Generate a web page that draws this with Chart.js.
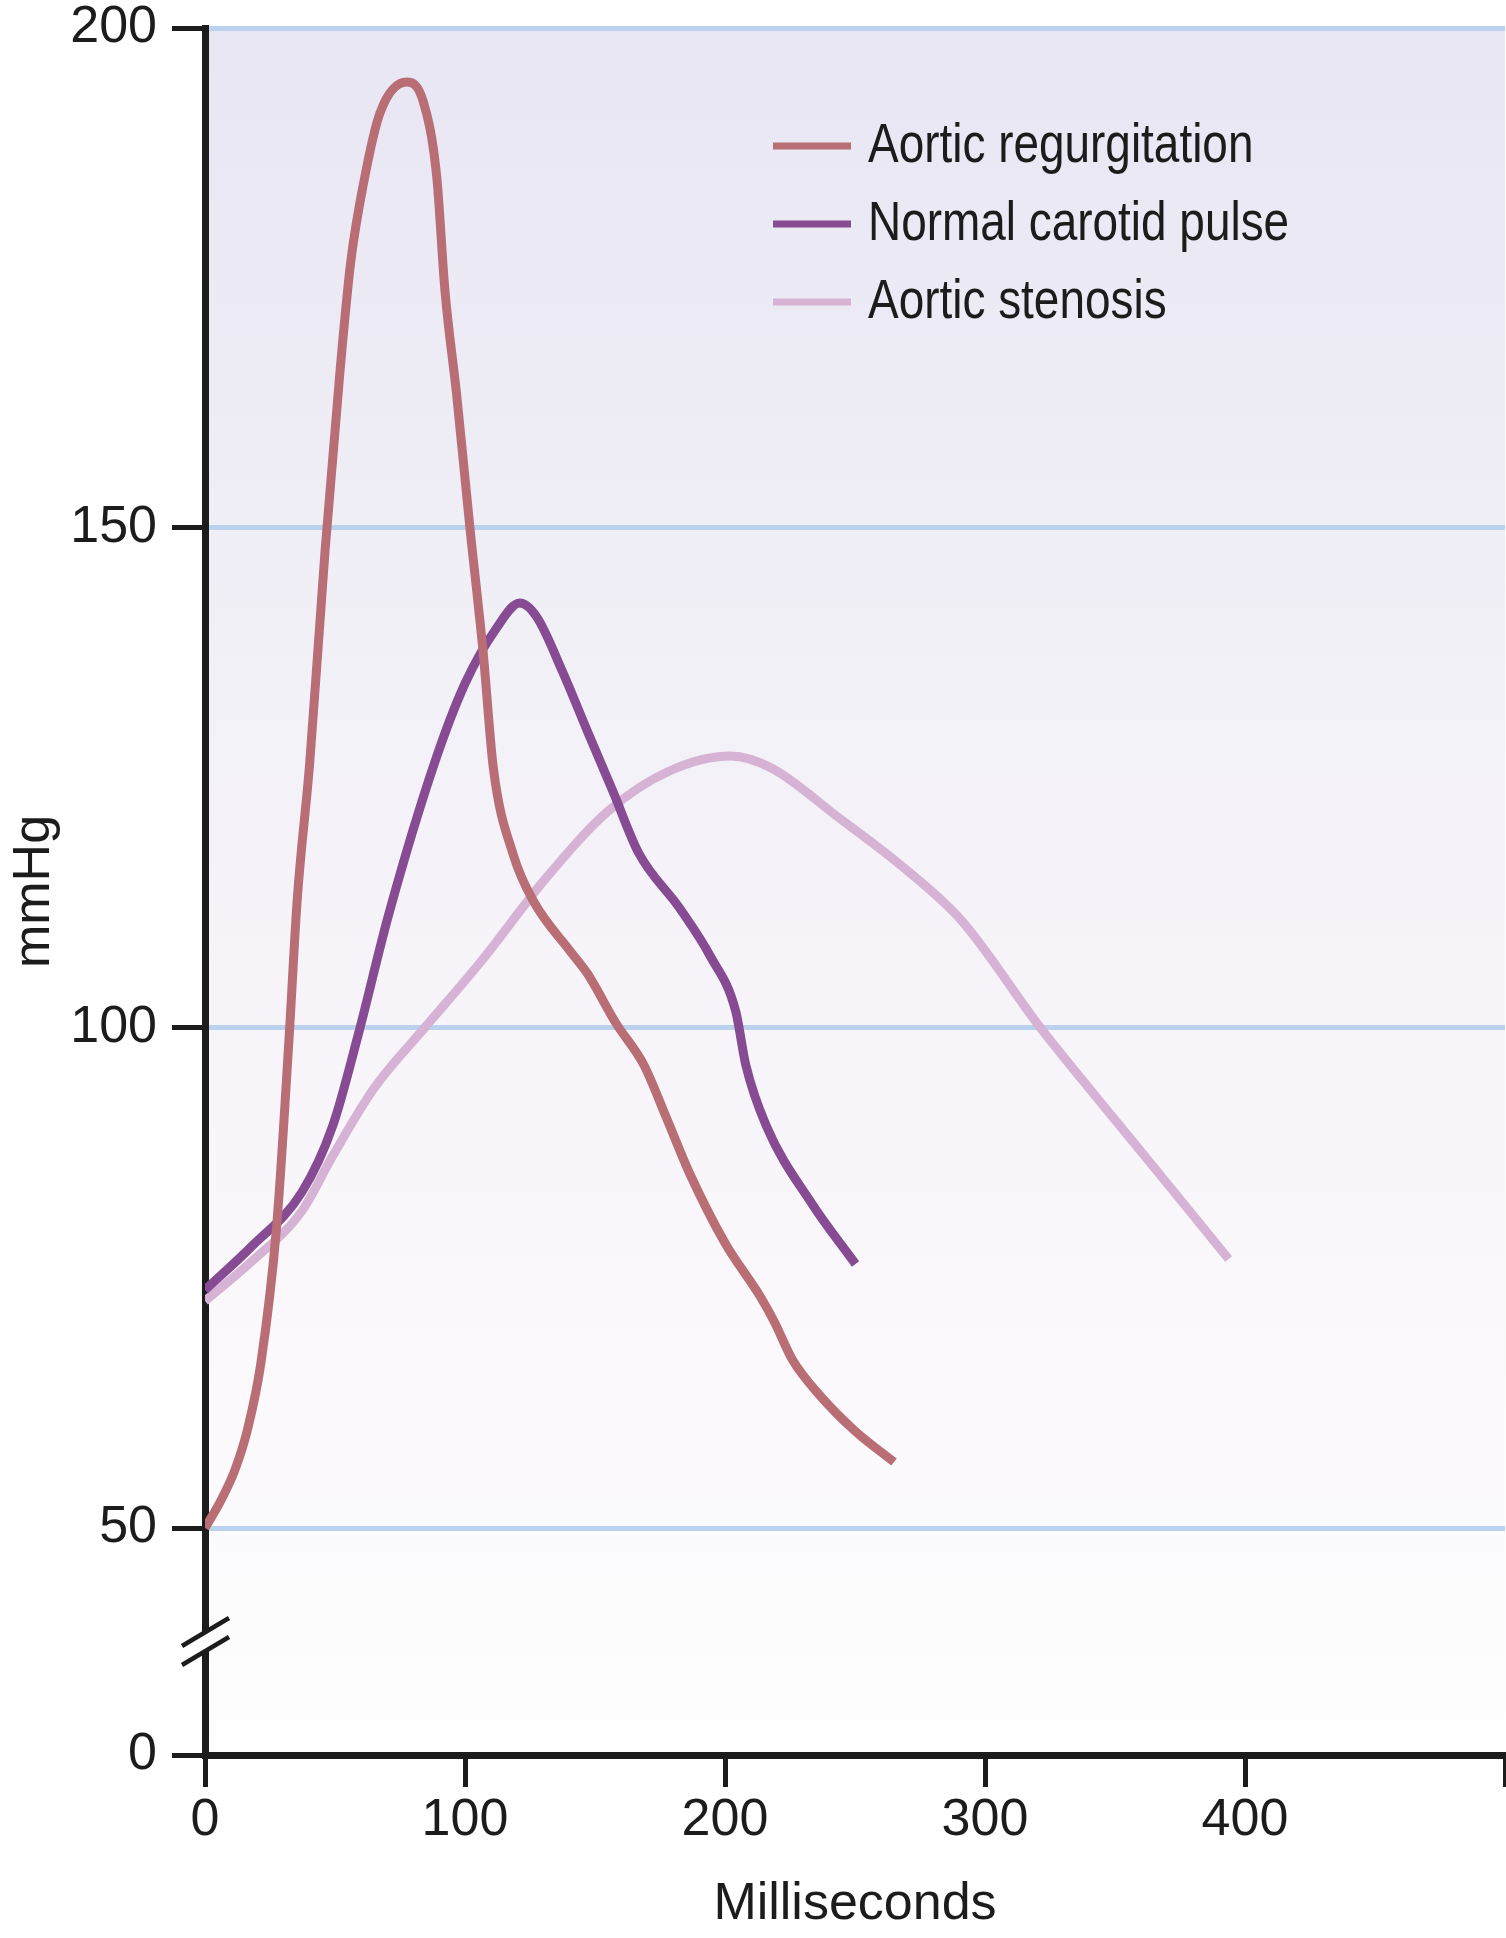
<!DOCTYPE html>
<html>
<head>
<meta charset="utf-8">
<title>Carotid pulse waveforms</title>
<script src="https://cdn.jsdelivr.net/npm/chart.js@4.4.1/dist/chart.umd.min.js"></script>
<style>
  html, body { margin: 0; padding: 0; background: #fff; }
  canvas { display: block; }
</style>
</head>
<body>
<canvas id="pulse" width="1506" height="1938"></canvas>
<script>
// axis ticks
var timeTicks = [0, 100, 200, 300, 400, 500];
var pressureTicks = [50, 100, 150, 200];
var BREAK_FLOOR = 27.3; // the broken axis shows "0" here

// Aortic regurgitation
var arTime = [0, 5.8, 11.5, 16.3, 21.5, 27.5, 32.4, 35.4, 40.3, 46.2, 51.9, 56, 61, 67.3, 77.6, 84,
  89.1, 92.3, 96.8, 101.9, 107, 110.9, 118.6, 126.3, 140.4, 147.2, 158, 168.8, 177.5, 186.5, 200, 213.9,
  219, 226, 236, 250, 265];
var arPressure = [50, 52.6, 55.8, 59.8, 66.5, 80, 99.3, 112.6, 126.6, 147.8, 165.6, 176.5, 184.5, 191.5, 194.6, 192.6,
  185.2, 173.7, 163.3, 150, 137.5, 126, 117.3, 112.7, 107.7, 105.4, 100.5, 96.3, 91, 85.4, 78.5, 73,
  70.6, 66.8, 63.4, 59.7, 56.6];

// Normal carotid pulse
var normalTime = [0, 17.7, 37.3, 49.1, 58.9, 70.7, 88.4, 100.1, 111.9, 121.1,
  127.6, 137.4, 147.2, 157, 166.8, 182.5, 194.3, 204.1, 208, 215.9,
  233.5, 250.2];
var normalPressure = [73.8, 78.1, 83.6, 90.2, 99.3, 111.4, 126.6, 134.5, 139.9, 142.5,
  141.1, 135.7, 129.6, 123.6, 117.5, 112, 107.2, 101.7, 96.3, 90.2,
  82.4, 76.4];

// Aortic stenosis
var stenosisTime = [0, 17.7, 37.3, 49.1, 64.8, 84.4, 106, 131.5, 155.1, 178.6, 202.2, 217.8, 243.4, 268.9, 290.8,
  321.1, 343.4, 367.4, 393.7];
var stenosisPressure = [72.7, 76.6, 81.7, 87.2, 93.9, 100, 106.6, 115.1, 121.7, 125.7, 127.2, 126, 121.1, 116, 110.8,
  100.1, 92.9, 85.3, 76.9];

var INK = '#1c1c1c';
var FONT = "'Liberation Sans', Arial, sans-serif";
var FONT_SIZE = 52;

function toPoints(xs, ys) {
  return xs.map(function (x, i) { return { x: x, y: ys[i] }; });
}

function series(label, xs, ys, color) {
  return {
    label: label,
    data: toPoints(xs, ys),
    borderColor: color,
    backgroundColor: color,
    borderWidth: 9,
    pointRadius: 0,
    fill: false,
    cubicInterpolationMode: 'monotone'
  };
}

// soft lavender wash behind the plot
var backdrop = {
  id: 'backdrop',
  beforeDraw: function (chart) {
    var a = chart.chartArea, ctx = chart.ctx;
    var g = ctx.createLinearGradient(0, a.top, 0, a.bottom);
    g.addColorStop(0, '#e8e6f3');
    g.addColorStop(0.39, '#f2f1f7');
    g.addColorStop(0.6, '#f8f5fa');
    g.addColorStop(0.7, '#faf7fb');
    g.addColorStop(1, '#fefefe');
    ctx.save();
    ctx.fillStyle = g;
    ctx.fillRect(a.left, a.top, a.right - a.left, a.bottom - a.top);
    ctx.restore();
  }
};

// legend drawn inside the plot, like the original figure (narrow type)
var innerLegend = {
  id: 'innerLegend',
  afterDatasetsDraw: function (chart) {
    var a = chart.chartArea, ctx = chart.ctx;
    var x0 = a.left + 568, y0 = a.top + 118, gap = 78;
    ctx.save();
    ctx.font = '55px ' + FONT;
    ctx.textBaseline = 'alphabetic';
    ctx.fillStyle = INK;
    chart.data.datasets.forEach(function (ds, i) {
      var y = y0 + i * gap;
      ctx.strokeStyle = ds.borderColor;
      ctx.lineWidth = 7;
      ctx.beginPath();
      ctx.moveTo(x0, y);
      ctx.lineTo(x0 + 78, y);
      ctx.stroke();
      ctx.save();
      ctx.translate(x0 + 95, y + 16);
      ctx.scale(0.835, 1);
      ctx.fillText(ds.label, 0, 0);
      ctx.restore();
    });
    ctx.restore();
  }
};

// "//" mark on the y axis between 0 and 50
var axisBreak = {
  id: 'axisBreak',
  afterDraw: function (chart) {
    var ctx = chart.ctx, y = chart.scales.y, x = chart.chartArea.left;
    var py = y.getPixelForValue(38.8);
    ctx.save();
    ctx.fillStyle = '#fff';
    ctx.beginPath();
    ctx.moveTo(x - 6, py - 3);
    ctx.lineTo(x + 6, py - 10);
    ctx.lineTo(x + 6, py + 9);
    ctx.lineTo(x - 6, py + 16);
    ctx.closePath();
    ctx.fill();
    ctx.strokeStyle = INK;
    ctx.lineWidth = 4.5;
    ctx.beginPath();
    ctx.moveTo(x - 23, py + 6);
    ctx.lineTo(x + 24, py - 22);
    ctx.moveTo(x - 23, py + 25);
    ctx.lineTo(x + 24, py - 3);
    ctx.stroke();
    ctx.restore();
  }
};

new Chart(document.getElementById('pulse'), {
  type: 'line',
  data: {
    datasets: [
      series('Aortic regurgitation', arTime, arPressure, '#b86e74'),
      series('Normal carotid pulse', normalTime, normalPressure, '#874b94'),
      series('Aortic stenosis', stenosisTime, stenosisPressure, '#d6b2d4')
    ]
  },
  options: {
    responsive: false,
    animation: false,
    layout: { padding: { top: 28, right: 1, left: 0, bottom: 0 } },
    plugins: { legend: { display: false }, tooltip: { enabled: false } },
    scales: {
      x: {
        type: 'linear',
        position: 'bottom',
        min: 0,
        max: 500,
        afterBuildTicks: function (scale) {
          scale.ticks = timeTicks.map(function (v) { return { value: v }; });
        },
        afterFit: function (scale) {
          scale.height = 183;
          scale.paddingLeft = 0;
          scale.paddingRight = 0;
        },
        ticks: {
          autoSkip: false,
          maxRotation: 0,
          padding: 2,
          color: INK,
          font: { family: FONT, size: FONT_SIZE },
          callback: function (v) { return v === 500 ? '' : v; }
        },
        grid: { drawOnChartArea: false, tickLength: 32, tickColor: INK, tickWidth: 5 },
        border: { color: INK, width: 7 },
        title: {
          display: true,
          text: 'Milliseconds',
          color: INK,
          font: { family: FONT, size: FONT_SIZE },
          padding: { top: 0, bottom: 2 }
        }
      },
      y: {
        type: 'linear',
        min: BREAK_FLOOR,
        max: 200,
        afterBuildTicks: function (scale) {
          scale.ticks = [BREAK_FLOOR].concat(pressureTicks).map(function (v) { return { value: v }; });
        },
        afterFit: function (scale) {
          scale.width = 205;
          scale.paddingTop = 0;
          scale.paddingBottom = 0;
        },
        ticks: {
          padding: 15,
          color: INK,
          font: { family: FONT, size: FONT_SIZE },
          callback: function (v) { return v === BREAK_FLOOR ? '0' : v; }
        },
        grid: {
          lineWidth: 5,
          color: function (c) { return c.tick && c.tick.value === BREAK_FLOOR ? 'rgba(0,0,0,0)' : '#bad2ee'; },
          tickLength: 33,
          tickColor: INK,
          tickWidth: 5
        },
        border: { color: INK, width: 7 },
        title: {
          display: true,
          text: 'mmHg',
          color: INK,
          font: { family: FONT, size: FONT_SIZE },
          padding: { top: 3, bottom: 0 }
        }
      }
    }
  },
  plugins: [backdrop, innerLegend, axisBreak]
});
</script>
</body>
</html>
